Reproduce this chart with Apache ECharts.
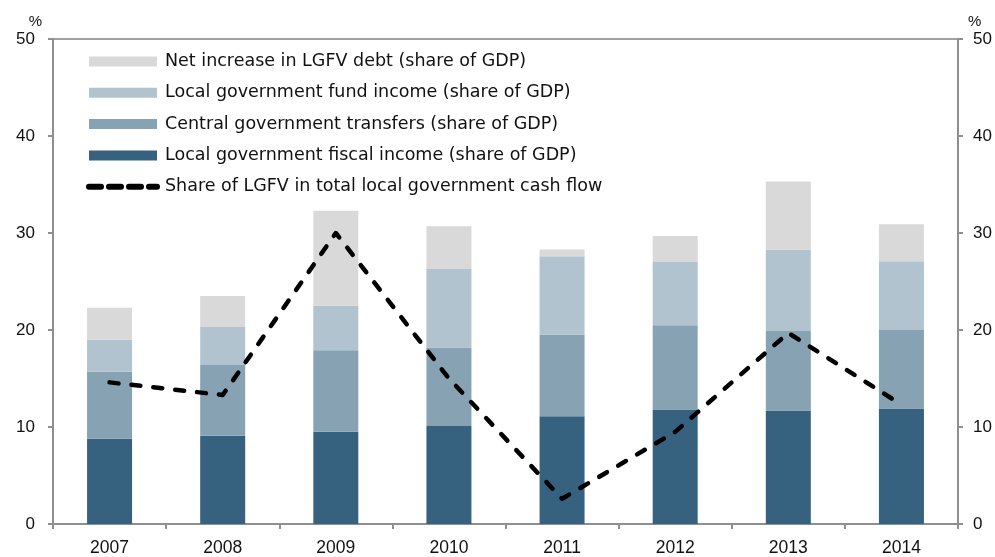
<!DOCTYPE html>
<html>
<head>
<meta charset="utf-8">
<script src="https://cdn.jsdelivr.net/npm/echarts@6/dist/echarts.min.js"></script>
<style>
html,body{margin:0;padding:0;background:#fff;}
#chart{width:995px;height:557px;}
</style>
</head>
<body>
<div id="chart"></div>
<script>
const years = ['2007','2008','2009','2010','2011','2012','2013','2014'];
const fiscalIncome = [8.8, 9.1, 9.5, 10.1, 11.1, 11.8, 11.7, 11.9];
const centralTransfers = [6.9, 7.3, 8.4, 8.1, 8.4, 8.7, 8.2, 8.1];
const fundIncome = [3.3, 3.9, 4.6, 8.1, 8.1, 6.5, 8.4, 7.1];
const lgfvDebt = [3.3, 3.2, 9.8, 4.4, 0.7, 2.7, 7.0, 3.8];
const lgfvShare = [14.6, 13.3, 30.0, 15.0, 2.6, 9.5, 19.7, 12.3];
const yTicks = [0, 10, 20, 30, 40, 50];

const names = {
  debt: 'Net increase in LGFV debt (share of GDP)',
  fund: 'Local government fund income (share of GDP)',
  transfers: 'Central government transfers (share of GDP)',
  fiscal: 'Local government fiscal income (share of GDP)',
  share: 'Share of LGFV in total local government cash flow'
};

const axisGray = '#8f8f8f';
const numFont = 'Liberation Sans';

const chart = echarts.init(document.getElementById('chart'), null, {renderer: 'canvas'});
const yAxisCommon = {
  type: 'value',
  min: yTicks[0],
  max: yTicks[yTicks.length - 1],
  interval: 10,
  name: '%',
  nameLocation: 'end',
  nameGap: 10,
  splitLine: {show: false},
  axisLine: {show: true, lineStyle: {color: axisGray, width: 2}},
  axisTick: {show: true, length: 5, lineStyle: {color: axisGray, width: 2}},
};
chart.setOption({
  animation: false,
  grid: {left: 53, right: 37, top: 39, bottom: 32, show: true, borderColor: '#a0a0a0', borderWidth: 2, containLabel: false},
  legend: {
    orient: 'vertical',
    left: 86,
    top: 51.5,
    padding: 0,
    itemWidth: 68,
    itemHeight: 10,
    itemGap: 11.3,
    textStyle: {fontFamily: 'DejaVu Sans', fontSize: 17.5, color: '#111', lineHeight: 20, padding: [0,0,0,3]},
    data: [
      {name: names.debt, icon: 'rect'},
      {name: names.fund, icon: 'rect'},
      {name: names.transfers, icon: 'rect'},
      {name: names.fiscal, icon: 'rect'},
      {name: names.share, lineStyle: {width: 6, type: [12, 8], cap: 'round'},
       itemStyle: {color: 'rgba(0,0,0,0)', borderWidth: 0, opacity: 0}}
    ]
  },
  xAxis: {
    type: 'category',
    data: years,
    axisLine: {lineStyle: {color: axisGray, width: 2}},
    axisTick: {show: true, length: 5, lineStyle: {color: axisGray, width: 2}},
    axisLabel: {color: '#111', fontFamily: numFont, fontSize: 17.5, margin: 15}
  },
  yAxis: [
    Object.assign({}, yAxisCommon, {
      position: 'left',
      nameTextStyle: {color: '#111', fontFamily: numFont, fontSize: 15, align: 'right', padding: [0, 11, 0, 0]},
      axisLabel: {color: '#111', fontFamily: numFont, fontSize: 17, margin: 18}
    }),
    Object.assign({}, yAxisCommon, {
      position: 'right',
      nameTextStyle: {color: '#111', fontFamily: numFont, fontSize: 15, align: 'left', padding: [0, 0, 0, 10]},
      axisLabel: {color: '#111', fontFamily: numFont, fontSize: 17, margin: 15}
    })
  ],
  series: [
    {name: names.fiscal, type: 'bar', stack: 's', barWidth: 45, data: fiscalIncome, itemStyle: {color: '#36627f'}},
    {name: names.transfers, type: 'bar', stack: 's', barWidth: 45, data: centralTransfers, itemStyle: {color: '#86a2b3'}},
    {name: names.fund, type: 'bar', stack: 's', barWidth: 45, data: fundIncome, itemStyle: {color: '#b0c3cf'}},
    {name: names.debt, type: 'bar', stack: 's', barWidth: 45, data: lgfvDebt, itemStyle: {color: '#d9d9d9'}},
    {name: names.share, type: 'line', yAxisIndex: 1, data: lgfvShare, symbol: 'none', z: 5,
     lineStyle: {color: '#000', width: 4.5, type: [9, 13], cap: 'round', join: 'round'},
     itemStyle: {color: '#000'}}
  ]
});
</script>
</body>
</html>
